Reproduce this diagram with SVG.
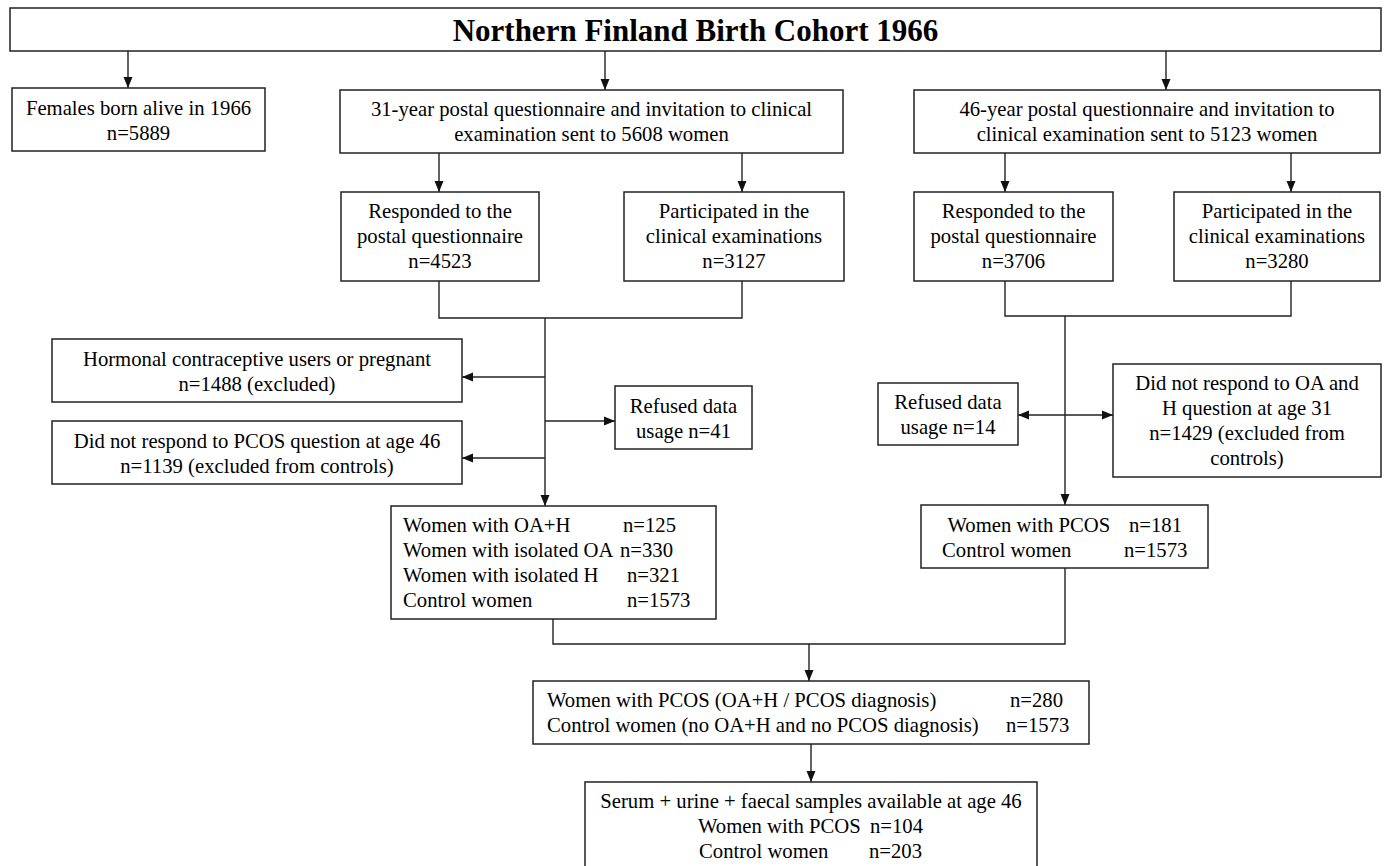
<svg xmlns="http://www.w3.org/2000/svg" width="1387" height="866" viewBox="0 0 1387 866">
<style>
.box{fill:#fff;stroke:#222;stroke-width:1.5}
.t{font-family:"Liberation Serif","Times New Roman",serif;font-size:20.7px;fill:#000}
.c{text-anchor:middle}
.title{font-family:"Liberation Serif","Times New Roman",serif;font-size:31px;font-weight:bold;fill:#000;text-anchor:middle}
.ln{fill:none;stroke:#222;stroke-width:1.4}
.ar{marker-end:url(#ah)}
</style>
<defs>
<marker id="ah" markerUnits="userSpaceOnUse" markerWidth="12" markerHeight="10" refX="11" refY="5" orient="auto-start-reverse">
<path d="M0,0.5 L11,5 L0,9.5 z" fill="#111"/>
</marker>
</defs>
<rect width="1387" height="866" fill="#fff"/>
<g id="connectors">
<path class="ln ar" d="M128,51 V88"/>
<path class="ln ar" d="M605,51 V90"/>
<path class="ln ar" d="M1166,51 V90"/>
<path class="ln ar" d="M439,153 V192"/>
<path class="ln ar" d="M742,153 V192"/>
<path class="ln ar" d="M1005,153 V192"/>
<path class="ln ar" d="M1291,153 V192"/>
<path class="ln" d="M439,281 V318 H742 V281"/>
<path class="ln ar" d="M545,318 V506"/>
<path class="ln ar" d="M545,377 H462"/>
<path class="ln ar" d="M545,458 H462"/>
<path class="ln ar" d="M545,421 H615"/>
<path class="ln" d="M1005,281 V316 H1291 V281"/>
<path class="ln ar" d="M1065,316 V505"/>
<path class="ln ar" d="M1065,415 H1018"/>
<path class="ln ar" d="M1065,415 H1113"/>
<path class="ln" d="M553,619 V644 H1065 V568"/>
<path class="ln ar" d="M809,644 V681"/>
<path class="ln ar" d="M811,744 V782"/>
</g>
<g id="title">
<rect class="box" x="10" y="8" width="1371" height="43"/>
<text class="title" x="695.5" y="41">Northern Finland Birth Cohort 1966</text>
</g>
<g id="females">
<rect class="box" x="12" y="88" width="253" height="63"/>
<text class="t c" x="138.5" y="115">Females born alive in 1966</text>
<text class="t c" x="138.5" y="140">n=5889</text>
</g>
<g id="q31">
<rect class="box" x="340" y="90" width="503" height="63"/>
<text class="t c" x="591.5" y="116">31-year postal questionnaire and invitation to clinical</text>
<text class="t c" x="591.5" y="141">examination sent to 5608 women</text>
</g>
<g id="q46">
<rect class="box" x="914" y="90" width="466" height="63"/>
<text class="t c" x="1147" y="116">46-year postal questionnaire and invitation to</text>
<text class="t c" x="1147" y="141">clinical examination sent to 5123 women</text>
</g>
<g id="resp31">
<rect class="box" x="341" y="192" width="198" height="89"/>
<text class="t c" x="440" y="218">Responded to the</text>
<text class="t c" x="440" y="243">postal questionnaire</text>
<text class="t c" x="440" y="268">n=4523</text>
</g>
<g id="part31">
<rect class="box" x="624" y="192" width="220" height="89"/>
<text class="t c" x="734" y="218">Participated in the</text>
<text class="t c" x="734" y="243">clinical examinations</text>
<text class="t c" x="734" y="268">n=3127</text>
</g>
<g id="resp46">
<rect class="box" x="914" y="192" width="199" height="89"/>
<text class="t c" x="1013.5" y="218">Responded to the</text>
<text class="t c" x="1013.5" y="243">postal questionnaire</text>
<text class="t c" x="1013.5" y="268">n=3706</text>
</g>
<g id="part46">
<rect class="box" x="1174" y="192" width="206" height="89"/>
<text class="t c" x="1277" y="218">Participated in the</text>
<text class="t c" x="1277" y="243">clinical examinations</text>
<text class="t c" x="1277" y="268">n=3280</text>
</g>
<g id="hormonal">
<rect class="box" x="52" y="339" width="410" height="63"/>
<text class="t c" x="257" y="366">Hormonal contraceptive users or pregnant</text>
<text class="t c" x="257" y="391">n=1488 (excluded)</text>
</g>
<g id="norespPCOS">
<rect class="box" x="52" y="421" width="410" height="63"/>
<text class="t c" x="257" y="448">Did not respond to PCOS question at age 46</text>
<text class="t c" x="257" y="473">n=1139 (excluded from controls)</text>
</g>
<g id="refused41">
<rect class="box" x="615" y="386" width="137" height="63"/>
<text class="t c" x="683.5" y="413">Refused data</text>
<text class="t c" x="683.5" y="438">usage n=41</text>
</g>
<g id="groups31">
<rect class="box" x="391" y="506" width="325" height="113"/>
<text class="t" x="403" y="532">Women with OA+H</text>
<text class="t" x="623" y="532">n=125</text>
<text class="t" x="403" y="557">Women with isolated OA</text>
<text class="t" x="620" y="557">n=330</text>
<text class="t" x="403" y="582">Women with isolated H</text>
<text class="t" x="627" y="582">n=321</text>
<text class="t" x="403" y="607">Control women</text>
<text class="t" x="627" y="607">n=1573</text>
</g>
<g id="refused14">
<rect class="box" x="878" y="383" width="140" height="62"/>
<text class="t c" x="948" y="409">Refused data</text>
<text class="t c" x="948" y="434">usage n=14</text>
</g>
<g id="norespOA">
<rect class="box" x="1113" y="364" width="268" height="113"/>
<text class="t c" x="1247" y="390">Did not respond to OA and</text>
<text class="t c" x="1247" y="415">H question at age 31</text>
<text class="t c" x="1247" y="440">n=1429 (excluded from</text>
<text class="t c" x="1247" y="465">controls)</text>
</g>
<g id="groups46">
<rect class="box" x="921" y="505" width="287" height="63"/>
<text class="t" x="947.5" y="532">Women with PCOS</text>
<text class="t" x="1129" y="532">n=181</text>
<text class="t" x="942" y="557">Control women</text>
<text class="t" x="1124" y="557">n=1573</text>
</g>
<g id="combined">
<rect class="box" x="533" y="681" width="556" height="63"/>
<text class="t" x="547" y="707">Women with PCOS (OA+H / PCOS diagnosis)</text>
<text class="t" x="1010" y="707">n=280</text>
<text class="t" x="547" y="732">Control women (no OA+H and no PCOS diagnosis)</text>
<text class="t" x="1006" y="732">n=1573</text>
</g>
<g id="samples">
<rect class="box" x="585" y="782" width="452" height="100"/>
<text class="t c" x="811" y="808">Serum + urine + faecal samples available at age 46</text>
<text class="t" x="698" y="833">Women with PCOS</text>
<text class="t" x="870" y="833">n=104</text>
<text class="t" x="699" y="858">Control women</text>
<text class="t" x="869" y="858">n=203</text>
</g>
</svg>
